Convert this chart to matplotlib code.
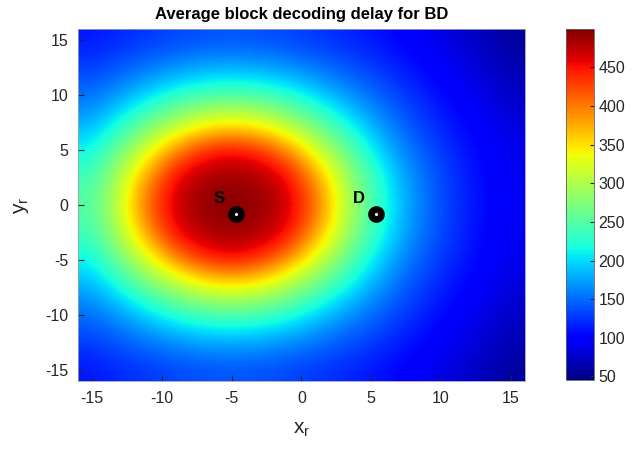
import numpy as np
import matplotlib
matplotlib.use('Agg')
import matplotlib.pyplot as plt

plt.rcParams['font.family'] = ['Liberation Sans', 'DejaVu Sans']
plt.rcParams['axes.unicode_minus'] = False

# relay grid (cell centres) and average decoding delay
x_r = [-15, -13, -11, -9, -7, -5, -3, -1, 1, 3, 5, 7, 9, 11, 13, 15]
y_r = [15, 13, 11, 9, 7, 5, 3, 1, -1, -3, -5, -7, -9, -11, -13, -15]

delay = [
    [112, 120, 127, 134, 138, 140, 138, 134, 127, 120, 112, 102, 92, 81, 70, 57],
    [125, 137, 148, 158, 166, 168, 166, 158, 148, 137, 125, 112, 100, 88, 77, 64],
    [142, 158, 178, 198, 211, 216, 211, 198, 178, 158, 142, 124, 109, 95, 83, 70],
    [161, 189, 222, 254, 274, 281, 274, 254, 222, 189, 161, 138, 119, 103, 90, 77],
    [185, 228, 274, 311, 345, 358, 345, 311, 274, 228, 185, 152, 128, 110, 96, 83],
    [211, 267, 322, 389, 435, 450, 435, 389, 322, 267, 211, 166, 139, 117, 101, 88],
    [234, 296, 373, 450, 476, 484, 476, 450, 373, 296, 234, 182, 146, 122, 104, 90],
    [247, 311, 406, 468, 490, 496, 490, 468, 406, 311, 247, 189, 150, 124, 106, 92],
    [247, 311, 406, 468, 490, 496, 490, 468, 406, 311, 247, 189, 150, 124, 106, 92],
    [234, 296, 373, 450, 476, 484, 476, 450, 373, 296, 234, 182, 146, 122, 104, 90],
    [211, 267, 322, 389, 435, 450, 435, 389, 322, 267, 211, 166, 139, 117, 101, 88],
    [185, 228, 274, 311, 345, 358, 345, 311, 274, 228, 185, 152, 128, 110, 96, 83],
    [161, 189, 222, 254, 274, 281, 274, 254, 222, 189, 161, 138, 119, 103, 90, 77],
    [142, 158, 178, 198, 211, 216, 211, 198, 178, 158, 142, 124, 109, 95, 83, 70],
    [125, 137, 148, 158, 166, 168, 166, 158, 148, 137, 125, 112, 100, 88, 77, 64],
    [112, 120, 127, 134, 138, 140, 138, 134, 127, 120, 112, 102, 92, 81, 70, 57],
]

# source / destination nodes
node_names = ['S', 'D']
node_x = [-4.7, 5.35]
node_y = [-0.8, -0.8]

axis_ticks = [-15, -10, -5, 0, 5, 10, 15]
cbar_ticks = [50, 100, 150, 200, 250, 300, 350, 400, 450]

fig = plt.figure(figsize=(6.44, 4.51), dpi=100)
ax = fig.add_axes([0.121, 0.155, 0.694, 0.781])
cax = fig.add_axes([0.879, 0.157, 0.043, 0.779])

half = (x_r[1] - x_r[0]) / 2
im = ax.imshow(np.array(delay), cmap='jet', vmin=45, vmax=500,
               extent=[x_r[0] - half, x_r[-1] + half, y_r[-1] - half, y_r[0] + half],
               origin='upper', aspect='auto', interpolation='bicubic')

ax.plot(node_x, node_y, 'o', color='black', markersize=7.2,
        markeredgewidth=4.8, markerfacecolor='white', linestyle='none')
for name, nx, ny in zip(node_names, node_x, node_y):
    ax.text(nx - 1.2, ny + 1.4, name, fontsize=12, fontweight='bold',
            ha='center', va='center', color='black')

ax.set_xlim(-16, 16)
ax.set_ylim(-16, 16)
ax.set_xticks(axis_ticks)
ax.set_yticks(axis_ticks)
ax.tick_params(direction='in', length=4, labelsize=11.5, colors='#262626', pad=7)
for s in ax.spines.values():
    s.set_color('#a0a0a0')
    s.set_linewidth(0.6)

ax.set_title('Average block decoding delay for BD', fontsize=12, fontweight='bold', pad=7)
ax.set_xlabel(r'$\mathregular{x_r}$', fontsize=15, color='#262626', labelpad=10)
ax.set_ylabel(r'$\mathregular{y_r}$', fontsize=15, color='#262626', labelpad=10)

cb = fig.colorbar(im, cax=cax, ticks=cbar_ticks)
cb.ax.tick_params(direction='in', length=3, labelsize=11.5, colors='#262626')
cb.outline.set_edgecolor('#606060')
cb.outline.set_linewidth(0.6)

fig.savefig('out.png', dpi=100)
